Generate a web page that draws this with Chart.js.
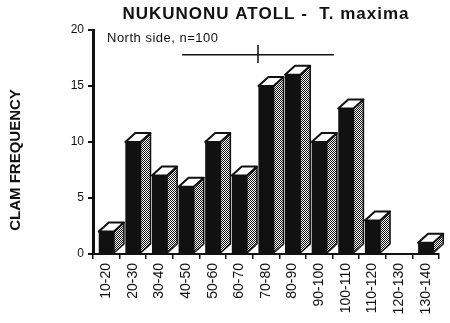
<!DOCTYPE html>
<html>
<head>
<meta charset="utf-8">
<script src="https://cdn.jsdelivr.net/npm/chart.js@4.4.1/dist/chart.umd.min.js"></script>
<style>
  html, body { margin: 0; padding: 0; background: #fff; }
  #wrap { width: 450px; height: 323px; }
</style>
</head>
<body>
<div id="wrap"><canvas id="clamChart"></canvas></div>
<script>
// Size classes (cm) and number of clams, north side
const sizeClasses = ['10-20', '20-30', '30-40', '40-50', '50-60', '60-70', '70-80',
                     '80-90', '90-100', '100-110', '110-120', '120-130', '130-140'];
const clamCounts = [2, 10, 7, 6, 10, 7, 15, 16, 10, 13, 3, 0, 1];
const freqTicks = [0, 5, 10, 15, 20];

// mean length marker drawn above the bars (cm), and its height on the count axis
const meanLength = 72;
const lengthSpread = 28.5;
const markerLevel = 17.8;

const FONT = "'Liberation Sans', Arial, Helvetica, sans-serif";
const INK = '#111';

// checker pattern for the shaded side of each bar
function makeMesh() {
    const c = document.createElement('canvas');
    c.width = 2; c.height = 2;
    const g = c.getContext('2d');
    g.fillStyle = '#fff';
    g.fillRect(0, 0, 2, 2);
    g.fillStyle = INK;
    g.fillRect(0, 0, 1, 1);
    g.fillRect(1, 1, 1, 1);
    return g.createPattern(c, 'repeat');
}

// side + top faces so the bars look like blocks
const blockFaces = {
    id: 'blockFaces',
    afterDatasetsDraw(chart) {
        const ctx = chart.ctx;
        const mesh = makeMesh();
        const dx = 10, dy = 9;
        chart.getDatasetMeta(0).data.forEach((bar, i) => {
            if (!clamCounts[i]) return;
            const { x, y, base, width } = bar.getProps(['x', 'y', 'base', 'width'], true);
            const left = x - width / 2, right = x + width / 2;
            ctx.save();
            ctx.lineWidth = 1.5;
            ctx.strokeStyle = INK;
            ctx.lineJoin = 'round';
            // side
            ctx.beginPath();
            ctx.moveTo(right, y);
            ctx.lineTo(right + dx, y - dy);
            ctx.lineTo(right + dx, base - dy);
            ctx.lineTo(right, base);
            ctx.closePath();
            ctx.fillStyle = mesh;
            ctx.fill();
            ctx.stroke();
            // top
            ctx.beginPath();
            ctx.moveTo(left, y);
            ctx.lineTo(left + dx, y - dy);
            ctx.lineTo(right + dx, y - dy);
            ctx.lineTo(right, y);
            ctx.closePath();
            ctx.fillStyle = '#fff';
            ctx.fill();
            ctx.lineWidth = 2;
            ctx.stroke();
            ctx.restore();
        });
    }
};

// titles, note and the mean marker
const labelsAndMarker = {
    id: 'labelsAndMarker',
    afterDraw(chart) {
        const ctx = chart.ctx;
        const area = chart.chartArea;
        const xs = chart.scales.x, ys = chart.scales.y;
        const cmToPx = cm => xs.getPixelForValue((cm - 15) / 10);

        ctx.save();
        ctx.fillStyle = INK;
        ctx.textBaseline = 'alphabetic';

        // main title
        ctx.font = 'bold 17px ' + FONT;
        ctx.letterSpacing = '1px';
        ctx.textAlign = 'center';
        ctx.fillText('NUKUNONU ATOLL -  T. maxima', (area.left + area.right) / 2, 19);

        // note
        ctx.font = '13px ' + FONT;
        ctx.letterSpacing = '0.5px';
        ctx.textAlign = 'left';
        ctx.fillText('North side, n=100', area.left + 14, 42);

        // y axis title
        ctx.font = 'bold 15px ' + FONT;
        ctx.letterSpacing = '0px';
        ctx.translate(20, 160);
        ctx.rotate(-Math.PI / 2);
        ctx.textAlign = 'center';
        ctx.fillText('CLAM FREQUENCY', 0, 0);
        ctx.restore();

        // mean +/- spread
        const yLine = ys.getPixelForValue(markerLevel);
        ctx.save();
        ctx.strokeStyle = INK;
        ctx.lineWidth = 1.5;
        ctx.beginPath();
        ctx.moveTo(cmToPx(meanLength - lengthSpread), yLine);
        ctx.lineTo(cmToPx(meanLength + lengthSpread), yLine);
        const xm = cmToPx(meanLength);
        ctx.moveTo(xm, ys.getPixelForValue(markerLevel + 0.85));
        ctx.lineTo(xm, ys.getPixelForValue(markerLevel - 0.75));
        ctx.stroke();
        ctx.restore();
    }
};

new Chart(document.getElementById('clamChart'), {
    type: 'bar',
    data: {
        labels: sizeClasses,
        datasets: [{
            data: clamCounts,
            backgroundColor: INK,
            borderWidth: 0,
            categoryPercentage: 1,
            barPercentage: 0.57
        }]
    },
    options: {
        responsive: true,
        maintainAspectRatio: false,
        animation: false,
        layout: { padding: { left: 0, right: 11, top: 30, bottom: 0 } },
        plugins: {
            legend: { display: false },
            tooltip: { enabled: false }
        },
        scales: {
            x: {
                ticks: {
                    color: INK,
                    font: { family: FONT, size: 14 },
                    minRotation: 90,
                    maxRotation: 90,
                    autoSkip: false,
                    padding: 4
                },
                grid: {
                    drawOnChartArea: false,
                    tickLength: 5,
                    color: INK,
                    lineWidth: 1.5,
                    offset: true
                },
                border: { color: INK, width: 2 },
                afterFit: s => { s.height = 69; }
            },
            y: {
                min: 0,
                max: 20,
                afterBuildTicks: s => { s.ticks = freqTicks.map(v => ({ value: v })); },
                ticks: {
                    color: INK,
                    font: { family: FONT, size: 12 },
                    padding: 4
                },
                grid: {
                    drawOnChartArea: false,
                    tickLength: 5,
                    color: INK,
                    lineWidth: 2
                },
                border: { color: INK, width: 3 },
                afterFit: s => { s.width = 93; }
            }
        }
    },
    plugins: [blockFaces, labelsAndMarker]
});
</script>
</body>
</html>
